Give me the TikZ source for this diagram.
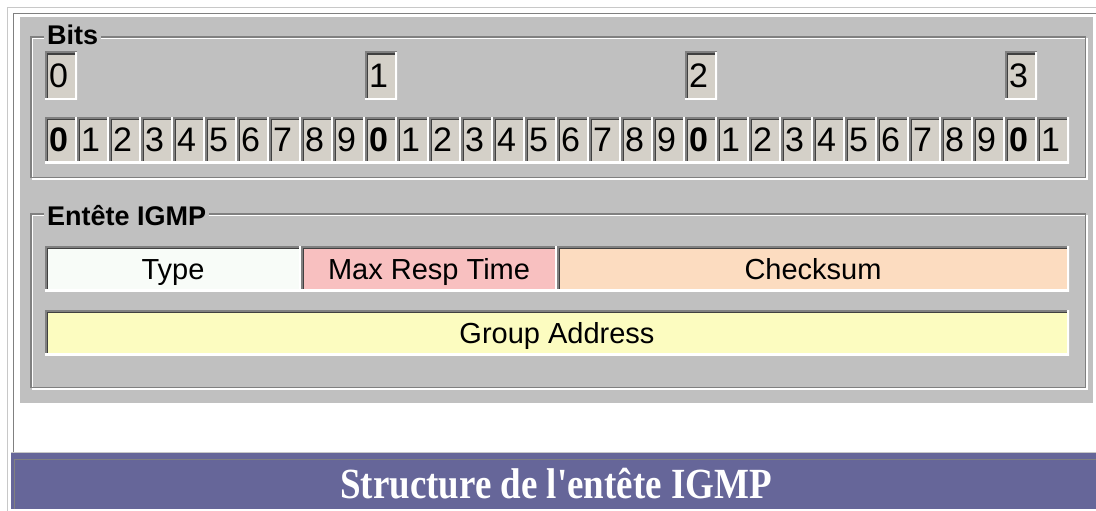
\documentclass[tikz,border=0pt]{standalone}
\usepackage{fontspec}
\setmainfont{Liberation Sans}
\newfontfamily\titlefont[FakeStretch=0.86,Ligatures=TeXOff]{Liberation Serif}
\definecolor{panel}{HTML}{C0C0C0}
\definecolor{cellbg}{HTML}{D4D0C8}
\definecolor{dk}{HTML}{808080}
\definecolor{dkr}{HTML}{404040}
\definecolor{lightline}{HTML}{C8C8C8}
\definecolor{band}{HTML}{666699}
\definecolor{typec}{HTML}{F8FCF8}
\definecolor{maxc}{HTML}{F8C0C0}
\definecolor{chkc}{HTML}{FCDCC0}
\definecolor{grpc}{HTML}{FCFCC0}
\tikzset{
  sunk/.style={rectangle, fill=#1, path picture={
    \draw[line width=6pt,draw=dkr] (path picture bounding box.south west) -- (path picture bounding box.north west) -- (path picture bounding box.north east);
    \draw[line width=3pt,draw=dk] (path picture bounding box.south west) -- (path picture bounding box.north west) -- (path picture bounding box.north east);
    \draw[line width=4pt,draw=white] (path picture bounding box.south west) -- (path picture bounding box.south east) -- (path picture bounding box.north east);
  }},
  bitcell/.style={sunk=cellbg, text width=24pt, align=left, inner xsep=4pt, inner ysep=0pt,
    minimum width=32pt, minimum height=46pt, font=\fontsize{34}{34}\selectfont},
  field/.style={sunk=#1, inner sep=0pt, minimum height=45pt, text height=21pt, text depth=0pt,
    font=\fontsize{29}{29}\selectfont},
  grouplabel/.style={anchor=base west, fill=panel, inner xsep=3pt, inner ysep=1pt, font=\bfseries\fontsize{27}{27}\selectfont},
  etched/.style={line width=1.5pt},
  titletext/.style={text=white, font=\titlefont\bfseries\fontsize{43}{43}\selectfont}
}
\begin{document}
\begin{tikzpicture}[x=1pt,y=-1pt]
\useasboundingbox (0,0) rectangle (1096,511);
\fill[white] (0,0) rectangle (1096,511);
% outer frame lines
\draw[lightline, line width=1.5pt] (7.5,511) -- (7.5,7.5) -- (1096,7.5);
\draw[dk, line width=1.5pt] (13.5,452) -- (13.5,13.5) -- (1096,13.5);
% gray panel
\fill[panel] (20,17) rectangle (1093,403);
% Bits group box
\draw[white, etched] (32.5,38.5) rectangle (1087,179);
\draw[dk, etched] (31,37) rectangle (1085.5,177.5);
\node[grouplabel] (bitslabel) at (44,45) {Bits};
% Entete group box
\draw[white, etched] (32.5,215.5) rectangle (1087,389);
\draw[dk, etched] (31,214) rectangle (1085.5,387.5);
\node[grouplabel] (entlabel) at (44,225) {Entête IGMP};
% top boxes
\foreach \i in {0,...,3} {
  \node[bitcell, minimum height=48pt] (t\i) at (61+320*\i,76) {\i};
}
% bit cells
\foreach \i in {0,...,31} {
  \pgfmathtruncatemacro\d{mod(\i,10)}
  \node[bitcell] (b\i) at (61+32*\i,140) {\ifnum\d=0 \bfseries\fi\d};
}
% header fields
\node[field=typec, minimum width=256pt] (type) at (173,268.5) {Type};
\node[field=maxc, minimum width=256pt] (maxresp) at (429,268.5) {Max Resp Time};
\node[field=chkc, minimum width=512pt] (checksum) at (813,268.5) {Checksum};
\node[field=grpc, minimum width=1024pt] (group) at (557,332.5) {Group Address};
% title band
\fill[band] (11,452) rectangle (1096,509);
\draw[lightline, line width=1.5pt] (11,452.5) -- (1096,452.5);
\draw[dk, line width=1.5pt] (14.5,509) -- (14.5,459.5) -- (1096,459.5);
\node[titletext] (title) at (556,484) {Structure de l'entête IGMP};
\end{tikzpicture}
\end{document}
